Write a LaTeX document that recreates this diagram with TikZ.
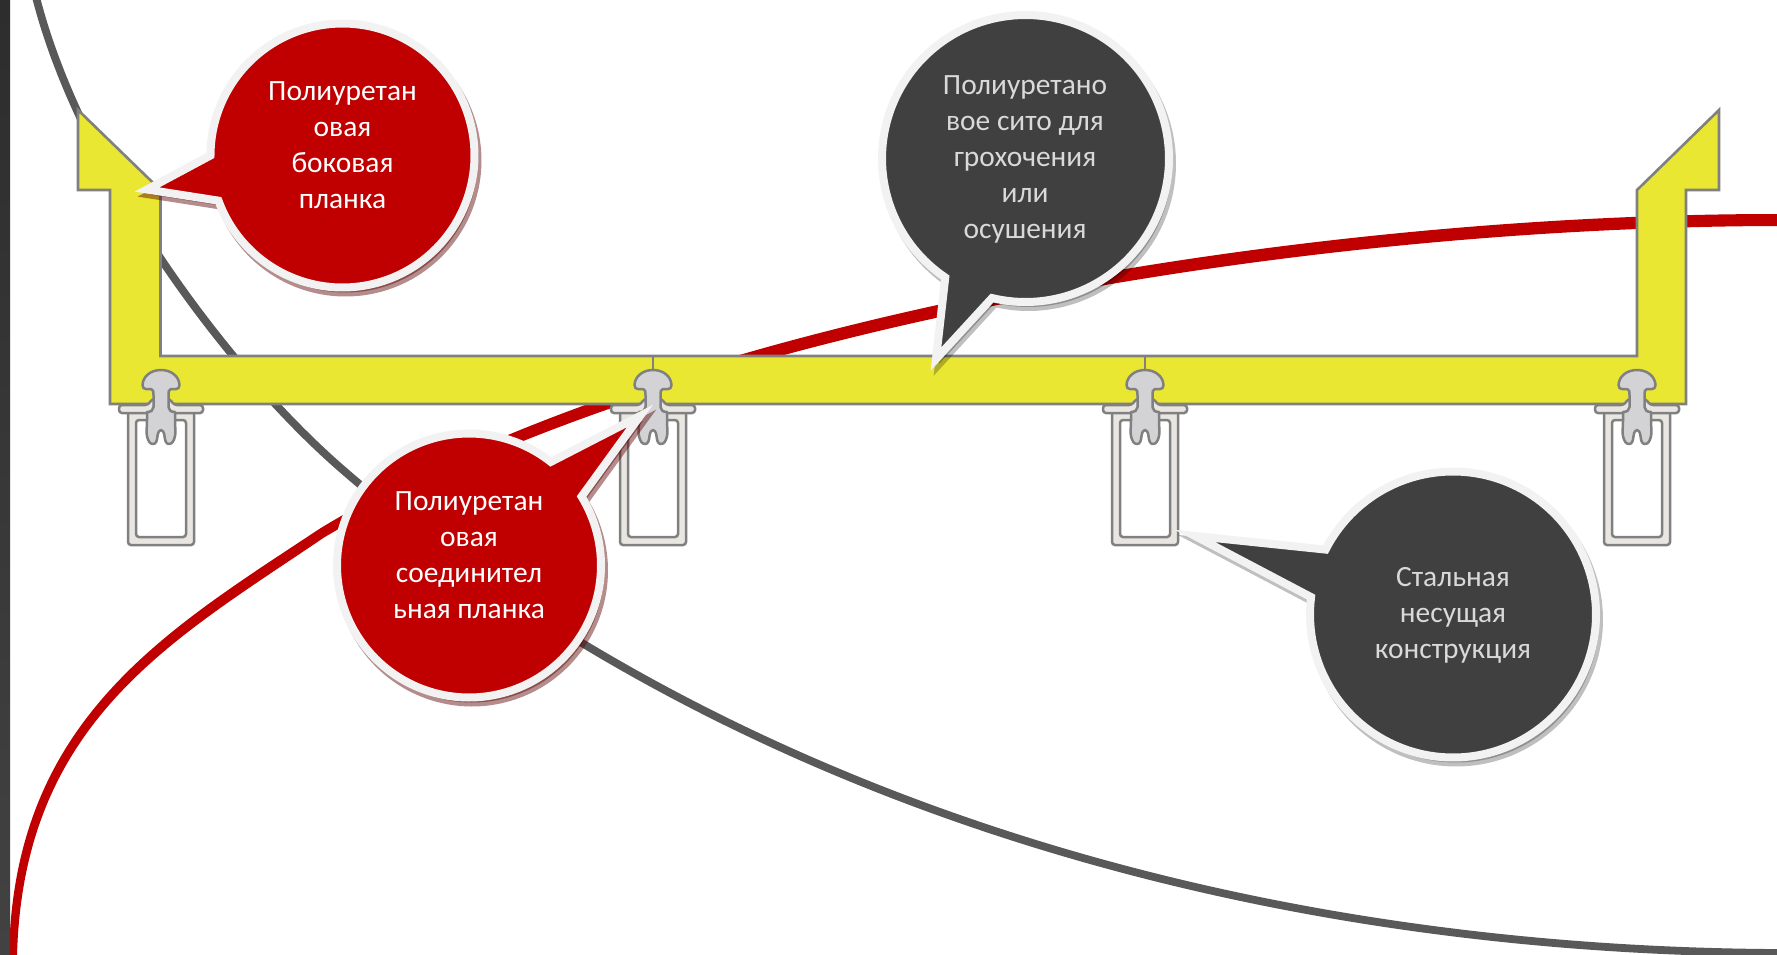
\documentclass[tikz,border=0pt]{standalone}
\usepackage{fontspec}
\setmainfont{Carlito}
\definecolor{cRed}{HTML}{C00000}
\definecolor{cDark}{HTML}{404040}
\definecolor{cBorder}{HTML}{F2F2F2}
\definecolor{cGrayCurve}{HTML}{595959}
\definecolor{cYellow}{HTML}{E9E732}
\definecolor{cEdge}{HTML}{808080}
\definecolor{cSteel}{HTML}{E9E6E2}
\definecolor{cClip}{HTML}{D3D3D5}
\definecolor{cLightText}{HTML}{D9D9D9}
\definecolor{cBarTop}{HTML}{2D2D2D}
\definecolor{cBarBottom}{HTML}{424242}
\definecolor{cShadowRed}{HTML}{5A0000}
\tikzset{
  curveGray/.style={draw=cGrayCurve,line width=3.9pt},
  yellowPart/.style={fill=cYellow,draw=cEdge,line width=1.3pt,line join=miter},
  steelPart/.style={fill=cSteel,draw=cEdge,line width=1.25pt,even odd rule,rounded corners=1.5pt},
  clipPart/.style={fill=cClip,draw=cEdge,line width=1.25pt},
  balloonText/.style={align=center,font=\fontsize{14.7}{18}\selectfont,inner sep=0pt},
  redShadow/.style={fill=cShadowRed,draw=cShadowRed,opacity=.45},
  darkShadow/.style={fill=black,draw=black,opacity=.25}
}
% shadow style, cx, cy, r (radius of the fill), start angle, end angle, tip x, tip y, fill
\newcommand{\speechballoon}[9]{%
  \def\balloonpath{(#7,#8) -- plot[domain=#5:#6,samples=160,variable=\t] ({#2+(#4+4)*cos(\t)},{#3+(#4+4)*sin(\t)}) -- cycle}%
  \path[#1,shift={(3,5)},line join=miter,miter limit=12,line width=4pt] \balloonpath;%
  \fill[#9,draw=cBorder,line width=4pt,line join=miter,miter limit=12] \balloonpath;%
}
\begin{document}
\begin{tikzpicture}[x=0.5pt,y=-0.5pt]
\useasboundingbox (0,0) rectangle (1777,954);
\fill[white] (0,0) rectangle (1777,954);
% curves
\begin{scope}
\clip (0,0) rectangle (1777,954);
\draw[curveGray] (36,-3) .. controls (80,170) and (225,368) .. (343,470) .. controls (660,745) and (1150,950) .. (1780,953);
\fill[cRed] (9,956) .. controls (13,719) and (167,630) .. (320,528.5) .. controls (668.5,317) and (1300,213.5) .. (1780,214)
 -- (1780,226) .. controls (1300,226.5) and (675.5,329) .. (324,537.5) .. controls (173,640) and (23,721) .. (17,956) -- cycle;
\end{scope}
\shade[top color=cBarTop,bottom color=cBarBottom] (0,0) rectangle (10,954);
% steel
\foreach \cx in {161,653,1145,1637}{
\begin{scope}[shift={(\cx,0)}]
  \draw[steelPart] (-33,411) -- (-33,545) -- (33,545) -- (33,411) -- cycle (-25,420) -- (-25,537) -- (25,537) -- (25,420) -- cycle;
\end{scope}}
% yellow
\draw[yellowPart] (78,110) -- (160.5,190) -- (160.5,356) -- (1637,356) -- (1637,190) -- (1719,110) -- (1719,190) -- (1686,190) -- (1686,404) -- (110,404) -- (110,190) -- (78,190) -- cycle;
\draw[draw=cEdge,line width=1pt] (653,356) -- (653,372) (1145,356) -- (1145,372);
\foreach \cx in {161,653,1145,1637}{
\begin{scope}[shift={(\cx,0)}]
  \draw[steelPart] (-42,405) -- (-13,405) -- (-9,399) -- (9,399) -- (13,405) -- (42,405) -- (42,413) -- (-42,413) -- cycle;
  \draw[clipPart,line join=round] (-18.5,385) .. controls (-18,376) and (-10,370) .. (0,370) .. controls (10,370) and (18,376) .. (18.5,385) .. controls (18.5,388) and (17,389) .. (15,389) -- (10,389) .. controls (7.5,389) and (7.5,392) .. (7.5,395) -- (7.5,407) .. controls (7.5,410) and (10,412) .. (14,412) -- (14,420) .. controls (14,428) and (15,432) .. (14,436) .. controls (13,441) and (11,444) .. (8,444) .. controls (5,444) and (4,441) .. (3.5,436) .. controls (3,432) and (1.5,430) .. (0,430) .. controls (-1.5,430) and (-3,432) .. (-3.5,436) .. controls (-4,441) and (-5,444) .. (-8,444) .. controls (-11,444) and (-13,441) .. (-14,436) .. controls (-15,432) and (-14,428) .. (-14,420) -- (-14,412) .. controls (-10,412) and (-7.5,410) .. (-7.5,407) -- (-7.5,395) .. controls (-7.5,392) and (-7.5,389) .. (-10,389) -- (-15,389) .. controls (-17,389) and (-18.5,388) .. (-18.5,385) -- cycle;
\end{scope}}
% balloons
\speechballoon{redShadow}{342.5}{155.5}{128}{180}{520}{147}{189.5}{cRed}
\speechballoon{redShadow}{469}{565.5}{128}{-31.5}{308.3}{640}{416}{cRed}
\speechballoon{darkShadow}{1025.5}{158.5}{139.5}{124}{463.5}{936}{359}{cDark}
\speechballoon{darkShadow}{1453}{614.5}{139}{207}{547}{1195}{536}{cDark}
\node[balloonText,text=white] (ta) at (342.5,145) {Полиуретан\\овая\\боковая\\планка};
\node[balloonText,text=white] (tb) at (469,555.5) {Полиуретан\\овая\\соединител\\ьная планка};
\node[balloonText,text=cLightText] (tc) at (1025,159) {Полиуретано\\вое сито для\\грохочения\\или\\осушения};
\node[balloonText,text=cLightText] (td) at (1453,615) {Стальная\\несущая\\конструкция};
\end{tikzpicture}
\end{document}
